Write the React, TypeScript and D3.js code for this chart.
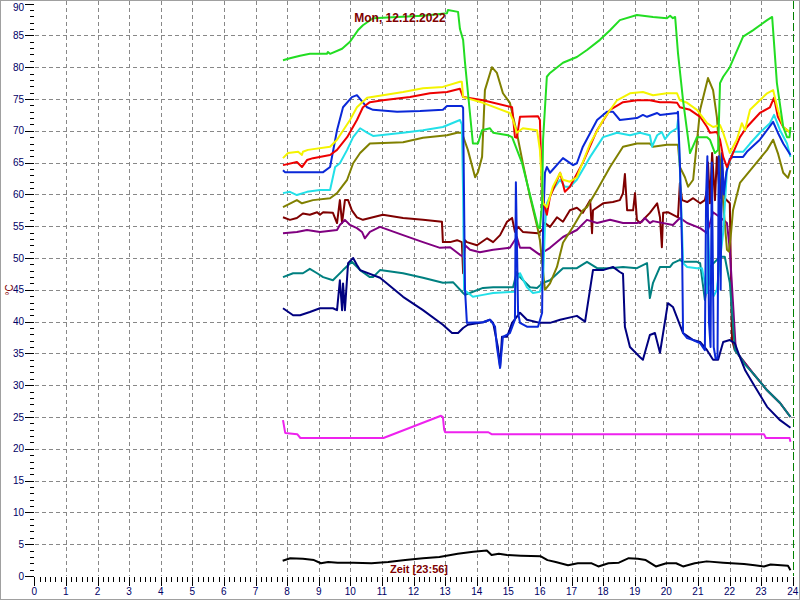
import React from 'react';
import * as d3 from 'd3';

type P = [number, number];

const hourTicks = [0,1,2,3,4,5,6,7,8,9,10,11,12,13,14,15,16,17,18,19,20,21,22,23,24];
const tempTicks = [0,5,10,15,20,25,30,35,40,45,50,55,60,65,70,75,80,85,90];

const titleText = 'Mon, 12.12.2022';
const timeText = 'Zeit [23:56]';
const unitText = '°C';

const green: P[] = [[7.87,81.1],[8.09,81.4],[8.41,81.8],[8.72,82.1],[9.26,82.1],[9.29,82.4],[9.36,82.1],[9.74,82.9],[9.99,84.0],[10.24,85.8],[10.40,86.6],[10.72,87.7],[11.48,87.9],[12.30,88.1],[13.06,88.5],[13.09,89.0],[13.41,88.7],[13.47,86.0],[13.57,84.3],[13.63,80.7],[13.88,68.0],[14.04,68.0],[14.17,70.1],[14.42,70.4],[14.52,69.7],[14.99,69.3],[15.12,69.0],[15.43,65.0],[15.94,54.9],[16.00,54.7],[16.07,58.6],[16.10,68.6],[16.22,78.5],[16.32,79.1],[16.73,80.7],[17.17,81.6],[17.49,82.7],[17.90,84.3],[18.22,85.8],[18.53,87.4],[19.07,88.2],[19.58,87.9],[20.02,87.7],[20.12,88.1],[20.21,87.7],[20.28,87.9],[20.37,82.2],[20.53,74.8],[20.75,66.5],[20.97,69.0],[21.29,69.0],[21.38,68.6],[21.54,66.5],[21.64,67.0],[21.70,77.5],[21.80,78.5],[22.01,80.0],[22.43,84.8],[22.74,85.8],[23.19,87.4],[23.35,87.9],[23.50,77.5],[23.70,70.6],[23.82,69.0],[23.90,69.0],[23.93,70.6]];

const yellow: P[] = [[7.87,65.7],[8.03,66.5],[8.35,66.7],[8.47,66.2],[8.50,66.7],[8.66,67.0],[9.36,67.5],[9.58,68.6],[9.99,71.7],[10.21,73.7],[10.53,75.2],[11.03,75.6],[11.67,76.1],[12.30,76.7],[12.93,76.9],[13.47,77.7],[13.53,77.7],[13.57,75.3],[14.20,74.4],[15.05,72.8],[15.15,71.7],[15.27,69.7],[15.46,70.4],[15.91,70.1],[16.00,67.0],[16.10,58.6],[16.22,58.0],[16.41,61.2],[16.64,63.4],[16.73,62.3],[16.95,62.0],[17.17,62.7],[17.59,68.0],[18.00,71.7],[18.44,74.8],[18.85,75.9],[19.26,76.1],[19.58,75.6],[20.02,75.9],[20.34,75.9],[20.43,74.8],[20.66,74.4],[20.97,73.3],[21.29,71.2],[21.48,70.6],[21.70,70.9],[21.80,69.7],[22.01,66.5],[22.23,68.6],[22.39,71.2],[22.49,70.1],[22.65,73.3],[22.96,74.8],[23.19,75.9],[23.38,76.4],[23.53,73.3],[23.70,70.6],[23.93,69.7]];

const red: P[] = [[7.87,64.6],[8.31,65.1],[8.47,64.3],[8.63,65.4],[8.82,65.7],[9.36,66.2],[9.58,67.0],[9.90,69.0],[10.21,71.7],[10.40,73.7],[10.62,74.5],[11.03,74.8],[11.89,75.3],[12.52,75.9],[13.06,76.1],[13.47,76.6],[13.57,75.3],[14.20,74.8],[15.12,73.7],[15.21,69.0],[15.27,68.9],[15.37,72.2],[15.94,72.3],[16.00,71.7],[16.07,59.6],[16.22,56.8],[16.32,59.6],[16.64,63.4],[16.79,60.4],[16.95,61.2],[17.36,65.0],[17.81,70.1],[18.22,73.3],[18.63,74.5],[19.07,74.8],[19.48,74.8],[19.80,74.5],[20.12,74.5],[20.34,74.4],[20.43,73.7],[20.75,73.3],[21.07,72.2],[21.29,70.6],[21.38,69.7],[21.60,69.8],[21.70,68.6],[21.80,65.9],[21.92,64.3],[22.11,66.5],[22.33,69.0],[22.55,70.6],[22.96,72.8],[23.28,73.7],[23.41,75.2],[23.53,72.2],[23.70,70.6],[23.93,69.7]];

const blue: P[] = [[7.87,63.8],[7.93,63.5],[9.14,63.5],[9.36,64.3],[9.58,70.1],[9.77,73.7],[10.05,75.3],[10.21,75.6],[10.53,73.7],[10.72,73.3],[11.48,73.0],[12.21,73.1],[12.93,73.3],[13.06,73.9],[13.53,73.9],[13.57,73.6],[13.63,45.0],[13.69,39.8],[14.20,39.9],[14.42,40.3],[14.58,39.2],[14.64,36.0],[14.74,32.7],[14.83,37.6],[15.05,38.2],[15.21,40.3],[15.24,61.9],[15.31,41.4],[15.37,39.8],[15.59,39.2],[15.94,39.2],[16.07,41.4],[16.10,55.0],[16.16,63.4],[16.22,64.3],[16.32,63.4],[16.73,65.7],[17.05,64.6],[17.17,64.9],[17.36,67.5],[17.81,71.7],[18.12,73.0],[18.31,73.0],[18.53,71.7],[19.07,72.0],[19.26,72.5],[19.39,72.2],[19.71,72.8],[19.80,72.5],[20.34,72.8],[20.37,73.0],[20.43,65.0],[20.50,51.3],[20.53,38.2],[20.66,37.4],[20.85,37.1],[21.07,36.6],[21.22,35.5],[21.26,60.0],[21.30,66.0],[21.35,40.0],[21.40,36.0],[21.44,65.0],[21.50,36.0],[21.56,34.2],[21.62,34.2],[21.66,66.0],[21.72,45.0],[21.76,66.5],[21.82,60.0],[21.90,63.5],[22.01,65.6],[22.11,65.9],[22.43,65.9],[22.55,66.7],[22.96,68.6],[23.38,71.4],[23.53,69.7],[23.70,68.0],[23.93,66.2]];

const cyan: P[] = [[7.87,60.2],[8.09,60.4],[8.31,59.9],[8.63,60.4],[9.04,60.7],[9.36,60.7],[9.52,64.3],[9.67,64.9],[9.90,67.0],[10.09,69.0],[10.31,70.4],[10.53,69.7],[10.72,69.2],[11.67,69.7],[12.30,70.1],[12.93,70.6],[13.47,71.7],[13.53,71.0],[13.57,60.0],[13.60,45.0],[13.88,43.9],[14.20,44.2],[14.52,44.5],[15.21,44.7],[15.27,46.5],[15.37,47.6],[15.59,45.4],[15.78,44.5],[16.00,44.7],[16.10,46.5],[16.16,55.0],[16.22,58.6],[16.41,60.7],[16.64,62.3],[16.79,61.2],[16.95,61.2],[17.17,62.3],[17.59,65.9],[18.00,69.0],[18.44,69.7],[18.85,69.3],[19.17,69.7],[19.48,69.3],[19.55,67.5],[19.71,69.3],[19.86,69.8],[19.96,68.7],[20.12,69.7],[20.34,70.4],[20.37,71.7],[20.43,64.0],[20.50,54.0],[20.53,49.2],[20.66,48.6],[20.97,48.4],[21.13,48.4],[21.22,46.0],[21.29,44.5],[21.32,55.0],[21.38,46.0],[21.50,44.0],[21.60,45.0],[21.70,49.7],[21.80,54.0],[21.92,63.8],[22.11,66.7],[22.43,66.7],[22.65,68.0],[22.96,69.7],[23.28,71.2],[23.41,72.5],[23.60,70.1],[23.82,68.0],[23.93,65.9]];

const olive: P[] = [[7.87,58.0],[8.31,59.1],[8.47,58.6],[8.82,59.1],[9.36,59.4],[9.58,60.2],[9.90,62.3],[10.09,64.9],[10.31,66.5],[10.62,68.0],[11.67,68.2],[12.30,68.9],[13.06,69.3],[13.38,69.7],[13.53,69.7],[13.72,67.0],[13.95,62.7],[14.04,63.5],[14.17,65.9],[14.26,76.4],[14.48,80.0],[14.64,79.1],[14.83,75.9],[15.05,74.4],[15.27,69.7],[15.46,64.9],[15.69,59.6],[15.94,54.4],[16.00,52.8],[16.16,45.0],[16.32,46.0],[16.54,48.6],[16.73,52.4],[17.05,54.9],[17.36,57.5],[17.49,58.0],[17.81,60.7],[18.22,64.3],[18.63,67.5],[19.07,68.0],[19.48,68.0],[19.58,67.5],[20.02,67.8],[20.37,67.8],[20.43,64.3],[20.59,62.7],[20.69,61.2],[20.85,62.3],[21.07,73.3],[21.32,78.3],[21.48,76.4],[21.60,72.2],[21.70,65.4],[21.80,58.6],[21.92,51.3],[21.98,51.0],[22.05,54.0],[22.11,57.5],[22.33,61.8],[22.74,64.3],[23.19,67.0],[23.38,68.6],[23.53,66.5],[23.70,63.4],[23.85,62.6],[23.93,63.8]];

const maroon: P[] = [[7.87,56.4],[8.09,56.0],[8.31,56.3],[8.50,57.0],[8.72,56.8],[8.95,57.2],[9.04,56.8],[9.14,57.2],[9.45,57.1],[9.58,55.5],[9.67,59.1],[9.74,55.5],[9.83,59.1],[9.93,59.1],[10.05,57.5],[10.21,56.4],[10.40,56.0],[11.03,56.8],[11.67,56.3],[12.30,56.0],[12.90,55.7],[12.93,52.5],[13.16,52.5],[13.38,52.8],[13.53,52.5],[13.57,47.6],[13.63,52.8],[13.69,52.5],[14.01,52.0],[14.33,53.1],[14.52,52.5],[14.74,53.6],[14.96,55.7],[15.12,56.3],[15.21,54.1],[15.31,54.9],[15.46,54.1],[15.94,53.9],[16.07,54.4],[16.16,55.5],[16.32,54.9],[16.54,56.4],[16.73,55.7],[16.95,57.5],[17.17,57.9],[17.36,57.1],[17.59,59.1],[17.65,53.9],[17.68,57.5],[18.00,58.6],[18.31,58.8],[18.53,59.1],[18.63,60.2],[18.69,63.2],[18.76,57.5],[18.95,57.5],[19.01,60.2],[19.07,56.0],[19.17,55.5],[19.48,57.1],[19.71,58.6],[19.80,56.4],[19.86,51.7],[19.90,57.1],[20.05,57.2],[20.37,56.4],[20.43,61.8],[20.50,59.1],[20.66,58.8],[20.85,59.4],[21.07,58.6],[21.22,59.1],[21.29,60.7],[21.32,65.0],[21.38,58.6],[21.45,66.5],[21.54,59.1],[21.60,65.9],[21.70,59.4],[21.76,65.0],[21.85,59.4],[22.01,58.6],[22.08,37.1],[22.17,35.5],[22.33,34.5],[22.74,31.9],[23.19,29.2],[23.60,27.2],[23.93,25.0]];

const purple: P[] = [[7.87,53.9],[8.31,54.1],[8.63,54.4],[9.04,54.1],[9.58,54.4],[9.67,55.2],[9.83,56.0],[9.99,55.2],[10.21,54.7],[10.37,54.1],[10.46,53.1],[10.62,54.1],[10.94,54.9],[11.67,53.6],[12.30,52.5],[12.84,51.6],[13.16,51.7],[13.47,50.5],[13.57,50.2],[13.63,52.0],[13.79,51.3],[14.10,50.9],[14.52,51.3],[15.05,51.6],[15.27,53.3],[15.37,51.6],[15.69,51.6],[16.00,50.5],[16.10,50.9],[16.32,51.6],[16.73,53.3],[17.17,54.4],[17.49,56.0],[17.81,55.5],[18.22,56.0],[18.63,55.5],[19.07,55.5],[19.23,55.7],[19.32,56.3],[19.48,55.5],[19.58,55.8],[20.21,55.2],[20.43,56.3],[20.66,55.5],[21.07,54.7],[21.29,53.9],[21.48,57.2],[21.70,56.4],[21.92,55.5],[22.01,51.3],[22.11,43.0],[22.20,35.5],[22.33,34.5],[22.74,31.9],[23.19,29.2],[23.60,27.2],[23.93,25.0]];

const teal: P[] = [[7.87,47.0],[8.19,47.6],[8.50,47.6],[8.72,48.3],[8.95,47.6],[9.14,47.0],[9.45,46.5],[9.77,48.1],[10.05,49.4],[10.31,48.1],[10.62,47.0],[10.72,47.0],[10.94,48.1],[11.67,47.6],[12.30,46.9],[12.93,46.1],[13.25,46.2],[13.57,44.5],[13.63,44.2],[13.88,44.7],[14.20,45.3],[14.52,45.4],[15.15,45.4],[15.27,47.8],[15.37,47.0],[15.69,45.4],[15.91,45.3],[16.10,46.1],[16.32,46.5],[16.73,48.4],[17.17,48.4],[17.49,49.4],[17.81,48.4],[18.22,48.4],[18.63,48.6],[19.07,48.4],[19.39,49.2],[19.48,43.7],[19.58,46.1],[19.80,48.6],[20.12,48.6],[20.21,49.2],[20.43,49.7],[20.53,49.4],[20.97,49.4],[21.07,49.2],[21.22,43.4],[21.38,48.6],[21.70,50.2],[21.85,50.2],[22.01,46.1],[22.17,35.5],[22.33,34.5],[22.50,33.2],[22.74,31.9],[23.19,29.2],[23.60,27.2],[23.93,25.0]];

const navy: P[] = [[7.87,42.1],[8.19,41.0],[8.41,41.0],[8.72,41.5],[9.04,42.1],[9.45,42.1],[9.58,41.8],[9.67,46.5],[9.74,41.8],[9.77,46.0],[9.83,41.8],[9.93,49.2],[10.09,50.0],[10.21,48.9],[10.31,48.1],[10.94,46.9],[11.67,43.9],[12.30,41.8],[12.93,39.5],[13.22,38.2],[13.41,38.2],[13.57,39.0],[13.72,39.5],[14.20,39.9],[14.42,40.3],[14.52,39.8],[14.67,36.0],[14.74,32.9],[14.80,37.6],[14.96,37.6],[15.12,39.8],[15.37,41.4],[15.59,40.3],[16.00,39.8],[16.32,39.8],[16.64,40.3],[17.17,40.9],[17.43,40.0],[17.68,48.1],[18.00,48.1],[18.31,48.6],[18.53,47.8],[18.63,47.5],[18.69,39.2],[18.85,36.0],[19.17,34.4],[19.26,34.0],[19.48,37.9],[19.64,38.2],[19.80,35.1],[20.05,42.9],[20.21,42.3],[20.53,38.2],[20.85,37.1],[21.07,36.8],[21.29,35.5],[21.48,34.0],[21.64,34.0],[21.80,36.8],[22.01,37.1],[22.17,36.6],[22.33,34.4],[22.50,32.3],[22.74,30.3],[23.19,26.6],[23.60,24.5],[23.93,23.3]];

const magenta: P[] = [[7.87,24.5],[7.94,22.5],[8.32,22.3],[8.42,21.7],[11.05,21.7],[12.87,25.2],[12.93,25.0],[12.97,23.0],[13.00,22.6],[14.37,22.6],[14.47,22.3],[23.09,22.3],[23.15,21.7],[23.90,21.7],[23.93,21.1]];

const black: P[] = [[7.86,2.4],[8.10,2.8],[8.50,2.7],[8.85,2.5],[9.07,2.0],[9.30,2.2],[9.60,2.1],[10.10,2.1],[10.67,2.0],[11.20,2.2],[11.74,2.5],[12.30,2.8],[12.82,3.0],[13.40,3.5],[13.89,3.8],[14.32,4.0],[14.47,3.3],[14.70,3.5],[14.96,3.3],[15.40,3.2],[16.03,3.1],[16.24,2.5],[16.50,2.2],[16.89,1.7],[17.20,2.0],[17.64,2.0],[17.85,1.5],[18.17,2.0],[18.50,2.1],[18.81,2.8],[19.10,2.7],[19.35,2.5],[19.67,1.5],[20.00,2.0],[20.31,2.0],[20.53,1.5],[20.90,2.0],[21.28,2.3],[21.80,2.1],[22.46,1.9],[22.80,1.7],[23.09,1.5],[23.30,1.8],[23.85,1.6],[23.93,0.9]];

const seriesList: { data: P[]; color: string }[] = [
  { data: black, color: '#000000' },
  { data: magenta, color: '#ee22ee' },
  { data: maroon, color: '#7f0000' },
  { data: purple, color: '#800080' },
  { data: teal, color: '#008080' },
  { data: navy, color: '#000080' },
  { data: olive, color: '#808000' },
  { data: cyan, color: '#22e0e8' },
  { data: blue, color: '#0a28d8' },
  { data: red, color: '#ee0000' },
  { data: yellow, color: '#f4f400' },
  { data: green, color: '#22dd22' },
];

const x = d3.scaleLinear().domain([0, 24]).range([34.3, 792.7]);
const y = d3.scaleLinear().domain([0, 90]).range([576, 3.6]);
const px = (v: number) => Math.round(v) + 0.5;

export default function App() {
  const line = d3.line<P>().x(d => x(d[0])).y(d => y(d[1]));
  const minorX = d3.range(0, 24 * 6 + 1).filter(i => i % 6 !== 0).map(i => i / 6);
  const minorY = d3.range(0, 91).filter(v => v % 5 !== 0);
  const labelColor = '#000066';
  return (
    <svg width={800} height={600} style={{ position: 'absolute', left: 0, top: 0, background: '#fff' }}
      fontFamily="'Liberation Sans', Arial, sans-serif">
      <rect x={0.5} y={0.5} width={799} height={599} fill="#fff" stroke="#a0a0a0" />
      <g shapeRendering="crispEdges" stroke="#888" strokeDasharray="4,3" strokeWidth={1}>
        {hourTicks.filter(h => h > 0 && h < 24).map(h => (
          <line key={'gx' + h} x1={px(x(h))} x2={px(x(h))} y1={1} y2={576} />
        ))}
        {tempTicks.filter(t => t > 0 && t < 90).map(t => (
          <line key={'gy' + t} x1={35} x2={798} y1={px(y(t))} y2={px(y(t))} />
        ))}
      </g>
      <g shapeRendering="crispEdges" stroke="#000" strokeWidth={1}>
        {tempTicks.map(t => (
          <line key={'ty' + t} x1={25} x2={34} y1={px(y(t))} y2={px(y(t))} />
        ))}
        {minorY.map(t => (
          <line key={'my' + t} x1={30} x2={34} y1={px(y(t))} y2={px(y(t))} />
        ))}
        {hourTicks.map(h => (
          <line key={'tx' + h} x1={px(x(h))} x2={px(x(h))} y1={577} y2={586} />
        ))}
        {minorX.map(h => (
          <line key={'mx' + h} x1={px(x(h))} x2={px(x(h))} y1={577} y2={582} />
        ))}
      </g>
      <g fontSize={10} fill={labelColor}>
        {tempTicks.map(t => (
          <text key={'ly' + t} x={24} y={Math.max(y(t), 7.5)} dy="0.35em" textAnchor="end">{t}</text>
        ))}
        {hourTicks.map(h => (
          <text key={'lx' + h} x={x(h)} y={595} textAnchor="middle">{h}</text>
        ))}
      </g>
      <line x1={793.5} x2={793.5} y1={1} y2={576} stroke="#008000" strokeDasharray="8,3" shapeRendering="crispEdges" />
      <g fill="none" strokeWidth={2} strokeLinejoin="round">
        {seriesList.map((s, i) => (
          <path key={'s' + i} d={line(s.data) || ''} stroke={s.color} />
        ))}
      </g>
      <text x={400} y={22} textAnchor="middle" fontSize={12} fontWeight="bold" fill="#800000">{titleText}</text>
      <text x={419} y={573} textAnchor="middle" fontSize={11} fontWeight="bold" fill="#800000">{timeText}</text>
      <text transform="translate(13,290) rotate(-90)" textAnchor="middle" fontSize={10} fill="#800000">{unitText}</text>
    </svg>
  );
}
